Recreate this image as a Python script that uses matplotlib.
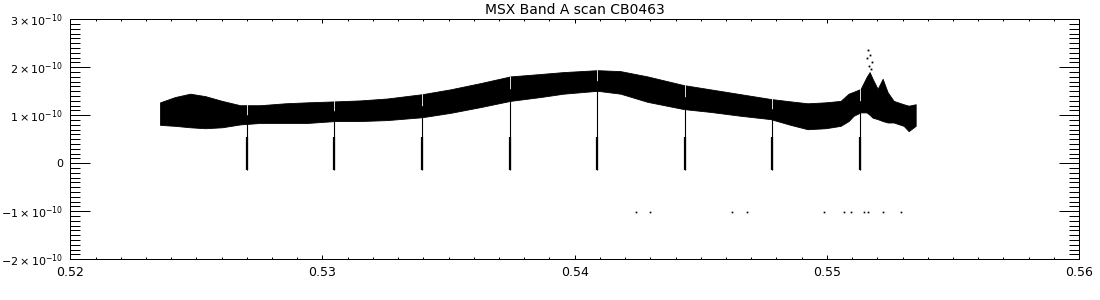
import numpy as np
import matplotlib
matplotlib.use('Agg')
import matplotlib.pyplot as plt
from matplotlib.ticker import MultipleLocator, FuncFormatter

matplotlib.rcParams.update({
    'font.family': 'DejaVu Sans',
    'font.size': 9,
    'mathtext.default': 'regular',
    'axes.linewidth': 0.72,
})

title = 'MSX Band A scan CB0463'

# band envelope (values in units of 1e-10)
band_x = [0.52356, 0.524155, 0.52475, 0.525345, 0.52602, 0.526734, 0.527528,
          0.52852, 0.529393, 0.530504, 0.531496, 0.532567, 0.533956, 0.535067,
          0.536258, 0.537448, 0.538639, 0.539552, 0.540901, 0.541814, 0.542885,
          0.544314, 0.545385, 0.546575, 0.547766, 0.54856, 0.549234, 0.549948,
          0.550544, 0.550861, 0.55106, 0.551337, 0.551575, 0.551694, 0.551813,
          0.552012, 0.55221, 0.552409, 0.552647, 0.553044, 0.553242, 0.55352]
band_hi = [1.27, 1.38, 1.45, 1.40, 1.30, 1.21, 1.21, 1.25, 1.27, 1.29,
           1.31, 1.35, 1.44, 1.54, 1.67, 1.81, 1.86, 1.90, 1.94, 1.92,
           1.81, 1.63, 1.54, 1.44, 1.34, 1.29, 1.25, 1.27, 1.30, 1.45,
           1.49, 1.55, 1.80, 1.90, 1.76, 1.55, 1.76, 1.48, 1.30, 1.23,
           1.20, 1.23]
band_lo = [0.80, 0.78, 0.75, 0.73, 0.75, 0.81, 0.84, 0.84, 0.84, 0.88,
           0.88, 0.90, 0.96, 1.05, 1.17, 1.30, 1.38, 1.45, 1.51, 1.45,
           1.28, 1.13, 1.07, 0.99, 0.92, 0.80, 0.71, 0.73, 0.78, 0.88,
           0.99, 1.06, 1.06, 1.01, 0.95, 0.92, 0.88, 0.85, 0.85, 0.78,
           0.67, 0.78]

# calibration dips
dip_x = [0.52702, 0.53047, 0.53394, 0.53742, 0.54087, 0.54436, 0.54783, 0.55131]
dip_bottom = -0.13
dip_thick_top = 0.55

# scattered points above the spike
spike_x = [0.551615, 0.551694, 0.551575, 0.551774, 0.551655, 0.551735]
spike_y = [2.36, 2.26, 2.19, 2.11, 2.03, 1.96]

# isolated samples near -1e-10
low_x = [0.54245, 0.54298, 0.54625, 0.54685, 0.54989, 0.55066, 0.55095,
         0.55148, 0.55161, 0.55221, 0.55295]
low_y = [-1.02] * len(low_x)

S = 1e-10

fig = plt.figure(figsize=(11, 3), dpi=100)
ax = fig.add_axes([0.0639, 0.1357, 0.9171, 0.80])

ax.fill_between(band_x, np.array(band_lo) * S, np.array(band_hi) * S,
                color='black', lw=0.6, edgecolor='black')

hi_at_dip = np.interp(dip_x, band_x, band_hi)
lo_at_dip = np.interp(dip_x, band_x, band_lo)
mid_at_dip = lo_at_dip + 0.5 * (hi_at_dip - lo_at_dip)
ax.vlines(dip_x, mid_at_dip * S, (hi_at_dip + 0.02) * S, color='white', lw=0.6)
ax.vlines(dip_x, dip_bottom * S, mid_at_dip * S, color='black', lw=0.8)
ax.vlines(dip_x, dip_bottom * S, dip_thick_top * S, color='black', lw=1.6)

ax.plot(spike_x, np.array(spike_y) * S, 's', color='black', ms=1.3, mew=0)
ax.plot(low_x, np.array(low_y) * S, 's', color='black', ms=1.2, mew=0)

ax.set_xlim(0.52, 0.56)
ax.set_ylim(-2e-10, 3e-10)

ax.xaxis.set_major_locator(MultipleLocator(0.01))
ax.xaxis.set_minor_locator(MultipleLocator(0.001))
ax.yaxis.set_major_locator(MultipleLocator(1e-10))
ax.yaxis.set_minor_locator(MultipleLocator(1e-11))


def ylab(v, pos):
    m = int(round(v / S))
    if m == 0:
        return '0'
    return r'$%d\times10^{-10}$' % m


ax.yaxis.set_major_formatter(FuncFormatter(ylab))
ax.xaxis.set_major_formatter(FuncFormatter(lambda v, p: '%.2f' % v))

ax.tick_params(axis='both', which='both', direction='in', top=True, right=True,
               width=0.72, colors='black')
ax.tick_params(axis='y', which='major', length=14.4, pad=5, labelsize=8)
ax.tick_params(axis='y', which='minor', length=7)
ax.tick_params(axis='x', which='major', length=3.2, pad=5)
ax.tick_params(axis='x', which='minor', length=1.6)

ax.set_title(title, fontsize=10, pad=4)

fig.savefig('out.png', dpi=100)
